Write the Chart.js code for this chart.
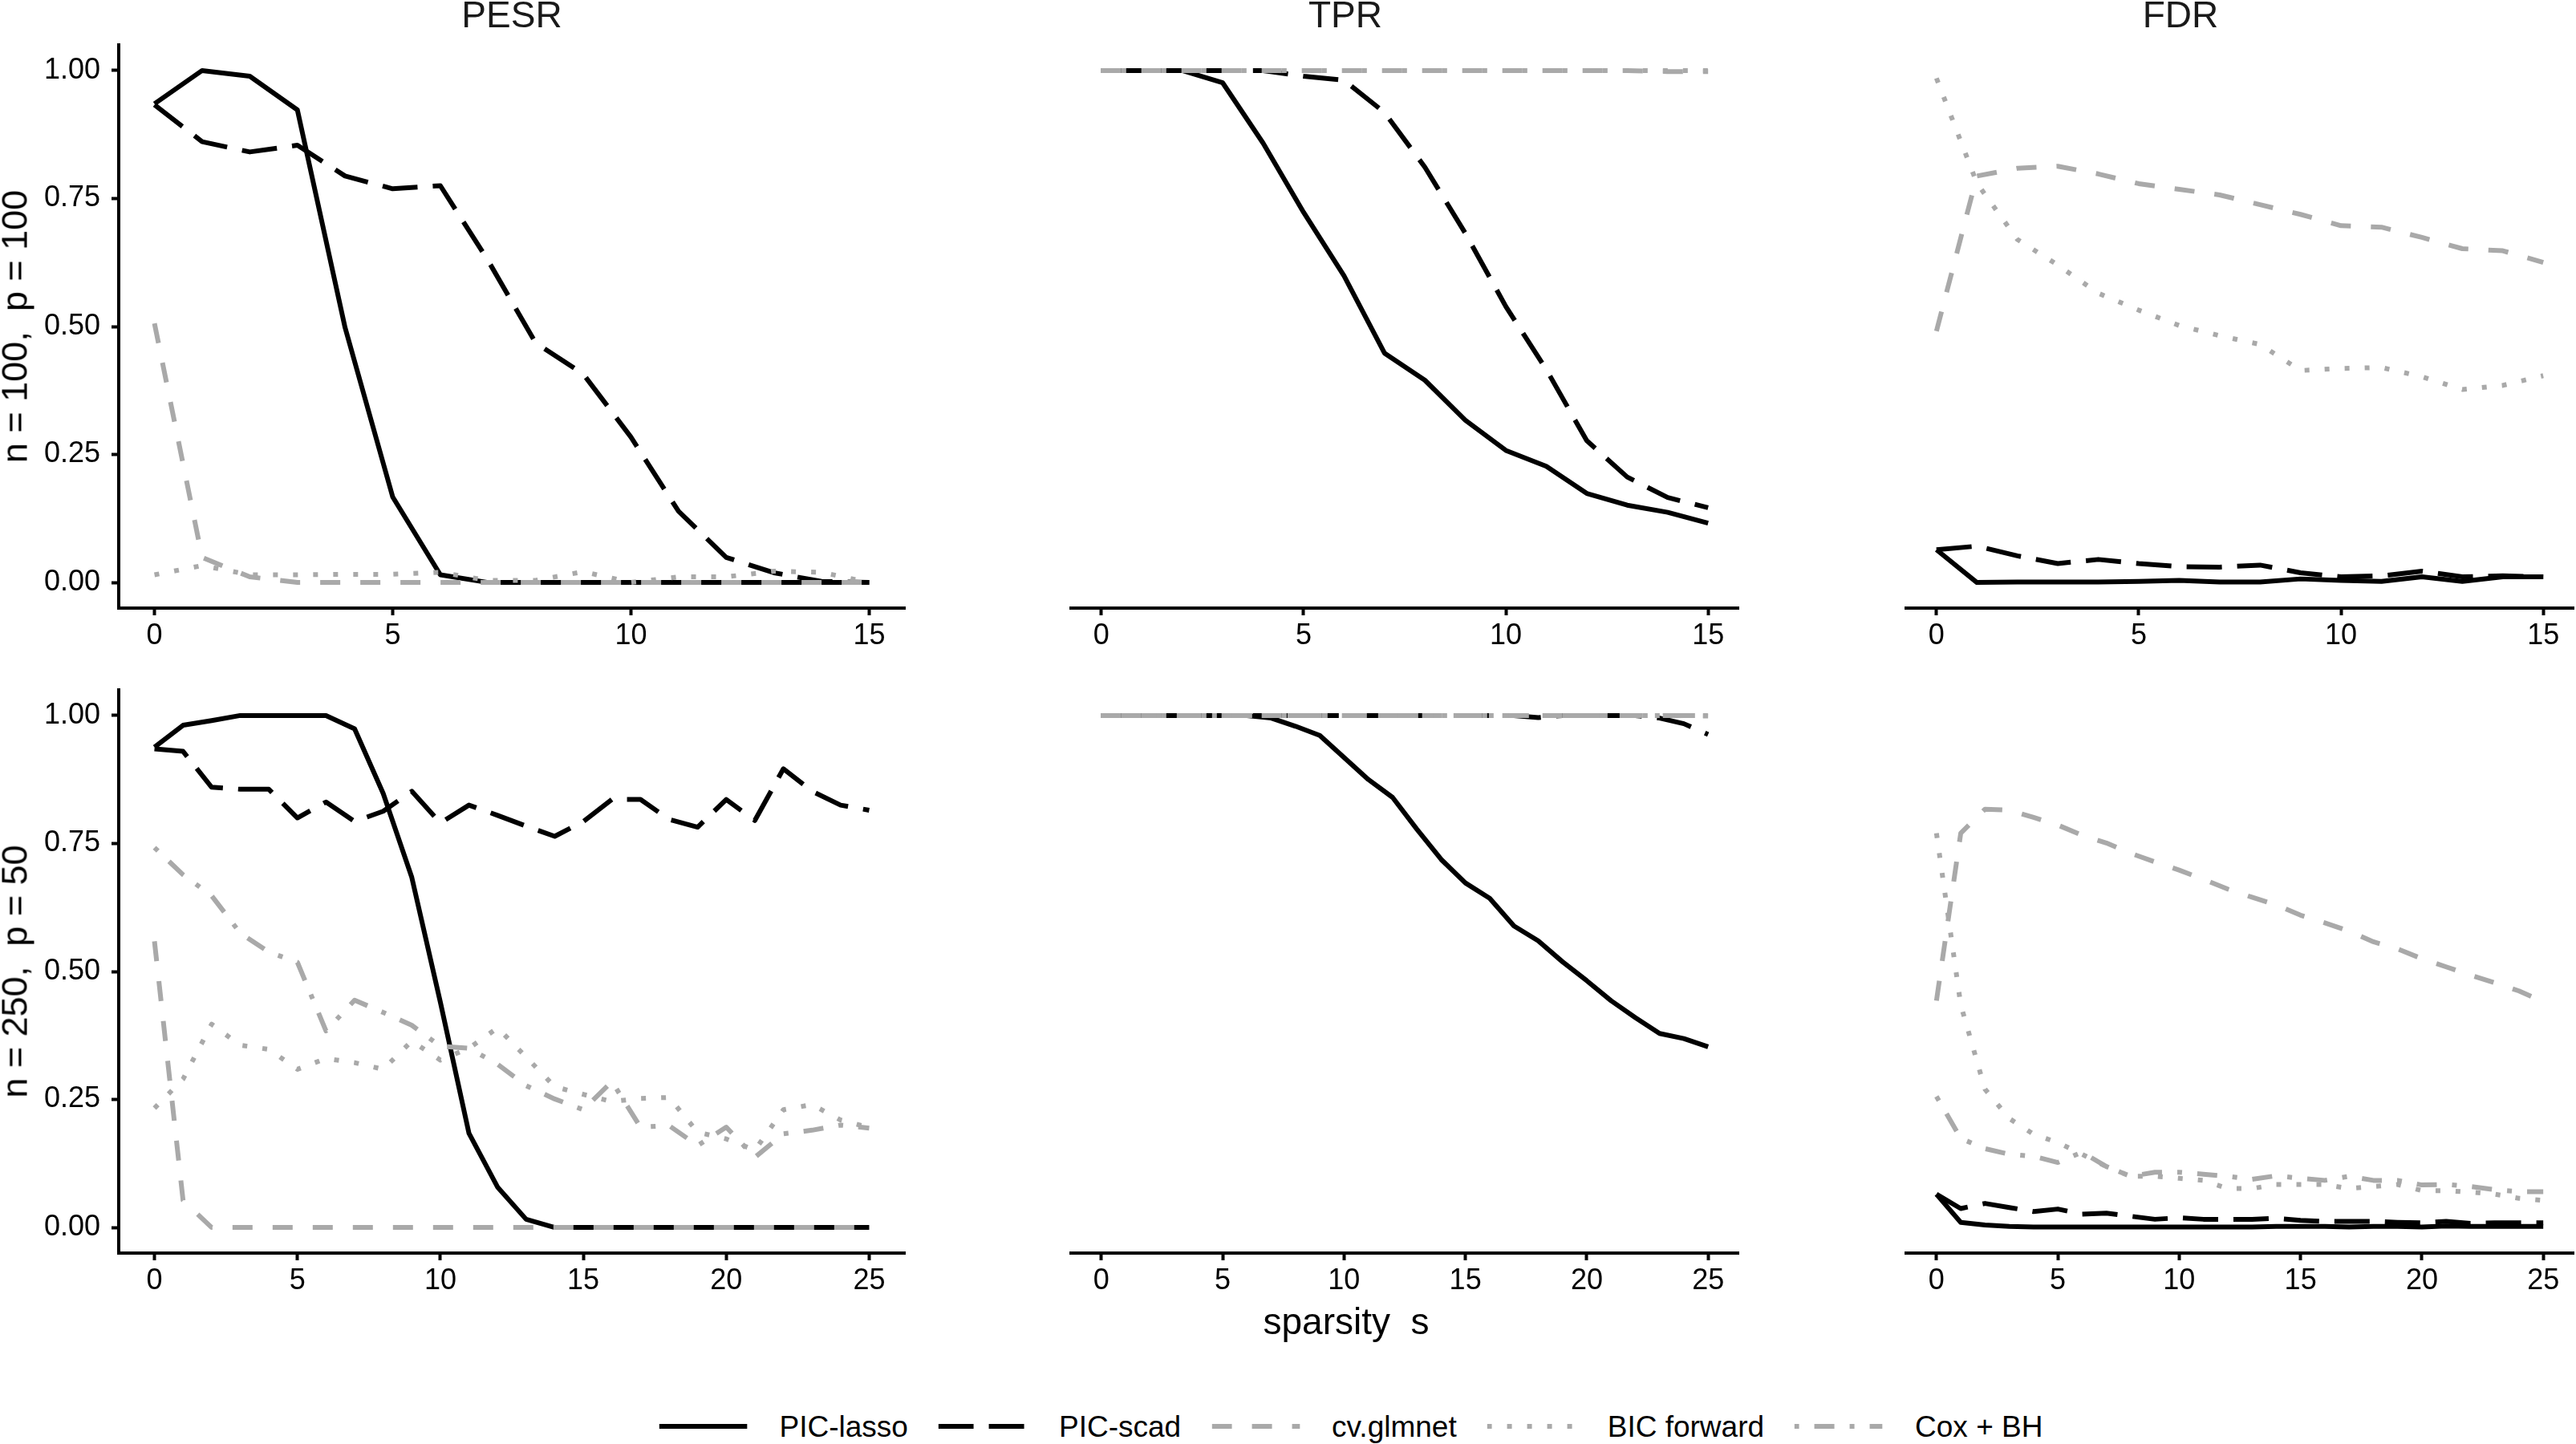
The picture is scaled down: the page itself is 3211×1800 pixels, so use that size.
<!DOCTYPE html>
<html>
<head>
<meta charset="utf-8">
<script src="https://cdn.jsdelivr.net/npm/chart.js@4.4.1/dist/chart.umd.min.js"></script>
<style>
  body { margin: 0; background: #fff; }
  #page { position: relative; width: 3211px; height: 1800px; overflow: hidden;
          font-family: "Liberation Sans", Arial, sans-serif; }
  #page canvas { position: absolute; }
  .txt { position: absolute; white-space: pre; line-height: 1; }
  #legend { position: absolute; display: flex; align-items: center; height: 40px;
            transform: translateX(-50%); font-size: 37px; line-height: 1; white-space: pre; }
  #legend svg { margin-right: 40px; }
  #legend span { margin-right: 38px; }
</style>
</head>
<body>
<div id="page"></div>
<script>
// sparsity values on the x axis
const sparsityTop = [0, 1, 2, 3, 4, 5, 6, 7, 8, 9, 10, 11, 12, 13, 14, 15];
const sparsityBottom = [0, 1, 2, 3, 4, 5, 6, 7, 8, 9, 10, 11, 12, 13, 14, 15, 16, 17, 18, 19, 20, 21, 22, 23, 24, 25];
const xTicksTop = [0, 5, 10, 15];
const xTicksBottom = [0, 5, 10, 15, 20, 25];
const yTicks = [0, 0.25, 0.5, 0.75, 1];

const metrics = ['PESR', 'TPR', 'FDR'];
const settings = ['n = 100,  p = 100', 'n = 250,  p = 50'];
const methods = ['PIC-lasso', 'PIC-scad', 'cv.glmnet', 'BIC forward', 'Cox + BH'];

// n = 100, p = 100
const pesrLasso1 = [0.935, 1.0, 0.989, 0.923, 0.498, 0.167, 0.015, 0, 0, 0, 0, 0, 0, 0, 0, 0];
const pesrScad1 = [0.933, 0.861, 0.841, 0.854, 0.794, 0.769, 0.775, 0.629, 0.468, 0.407, 0.284, 0.139, 0.049, 0.019, 0.002, 0];
const pesrCv1 = [0.506, 0.049, 0.011, 0, 0, 0, 0, 0, 0, 0, 0, 0, 0, 0, 0, 0];
const pesrBic1 = [0.015, 0.033, 0.015, 0.015, 0.016, 0.016, 0.02, 0.004, 0.004, 0.021, 0.0, 0.011, 0.011, 0.022, 0.02, 0.0];

const tprLasso1 = [1, 1, 1, 0.976, 0.858, 0.723, 0.599, 0.448, 0.395, 0.317, 0.258, 0.227, 0.174, 0.151, 0.137, 0.116];
const tprScad1 = [1, 1, 1, 1, 1, 0.989, 0.981, 0.918, 0.811, 0.682, 0.539, 0.416, 0.277, 0.206, 0.166, 0.146];
const tprCv1 = [1, 1, 1, 1, 1, 1, 1, 1, 1, 1, 1, 1, 1, 1, 0.998, 0.998];
const tprBic1 = [1, 1, 1, 1, 1, 1, 1, 1, 1, 1, 1, 1, 1, 1, 1, 1];

const fdrLasso1 = [0.064, 0, 0.001, 0.001, 0.001, 0.002, 0.004, 0.001, 0.001, 0.007, 0.004, 0.002, 0.011, 0.002, 0.011, 0.011];
const fdrScad1 = [0.064, 0.071, 0.052, 0.037, 0.045, 0.037, 0.031, 0.030, 0.034, 0.019, 0.011, 0.013, 0.022, 0.011, 0.013, 0.011];
const fdrCv1 = [0.491, 0.794, 0.809, 0.813, 0.798, 0.779, 0.768, 0.757, 0.738, 0.719, 0.697, 0.694, 0.674, 0.652, 0.648, 0.625];
const fdrBic1 = [0.985, 0.78, 0.67, 0.62, 0.565, 0.532, 0.502, 0.482, 0.465, 0.414, 0.418, 0.42, 0.402, 0.377, 0.385, 0.404];

// n = 250, p = 50
const pesrLasso2 = [0.938, 0.981, 0.99, 1, 1, 1, 1, 0.974, 0.848, 0.684, 0.44, 0.184, 0.079, 0.016, 0, 0, 0, 0, 0, 0, 0, 0, 0, 0, 0, 0];
const pesrScad2 = [0.935, 0.93, 0.86, 0.856, 0.856, 0.80, 0.831, 0.793, 0.813, 0.852, 0.79, 0.825, 0.805, 0.784, 0.764, 0.793, 0.836, 0.836, 0.797, 0.782, 0.836, 0.795, 0.896, 0.852, 0.825, 0.815];
const pesrCv2 = [0.559, 0.053, 0, 0, 0, 0, 0, 0, 0, 0, 0, 0, 0, 0, 0, 0, 0, 0, 0, 0, 0, 0, 0, 0, 0, 0];
const pesrBic2 = [0.233, 0.29, 0.397, 0.356, 0.348, 0.309, 0.33, 0.322, 0.309, 0.364, 0.327, 0.35, 0.39, 0.333, 0.275, 0.26, 0.246, 0.252, 0.254, 0.186, 0.173, 0.151, 0.23, 0.24, 0.21, 0.195];
const pesrCox2 = [0.742, 0.689, 0.648, 0.575, 0.538, 0.518, 0.384, 0.444, 0.42, 0.395, 0.354, 0.35, 0.319, 0.277, 0.251, 0.23, 0.285, 0.196, 0.199, 0.16, 0.196, 0.137, 0.183, 0.19, 0.2, 0.194];

const tprLasso2 = [1, 1, 1, 1, 1, 1, 1, 0.995, 0.979, 0.961, 0.918, 0.875, 0.84, 0.778, 0.719, 0.673, 0.643, 0.589, 0.56, 0.519, 0.482, 0.443, 0.41, 0.379, 0.369, 0.353];
const tprScad2 = [1, 1, 1, 1, 1, 1, 1, 1, 1, 1, 1, 1, 1, 1, 1, 1, 1, 1, 0.996, 1, 1, 1, 1, 0.995, 0.984, 0.963];
const tprCv2 = [1, 1, 1, 1, 1, 1, 1, 1, 1, 1, 1, 1, 1, 1, 1, 1, 1, 1, 1, 1, 1, 1, 1, 1, 1, 0.999];
const tprBic2 = [1, 1, 1, 1, 1, 1, 1, 1, 1, 1, 1, 1, 1, 1, 1, 1, 1, 1, 1, 1, 1, 1, 1, 1, 1, 1];
const tprCox2 = [1, 1, 1, 1, 1, 1, 1, 1, 1, 1, 1, 1, 1, 1, 1, 1, 1, 1, 1, 1, 1, 1, 1, 1, 1, 1];

const fdrLasso2 = [0.065, 0.01, 0.005, 0.002, 0.001, 0.001, 0.001, 0.001, 0.001, 0.001, 0.001, 0.001, 0.001, 0.001, 0.002, 0.002, 0.002, 0.001, 0.002, 0.002, 0.001, 0.003, 0.002, 0.002, 0.002, 0.002];
const fdrScad2 = [0.065, 0.037, 0.047, 0.039, 0.031, 0.036, 0.026, 0.028, 0.022, 0.016, 0.019, 0.016, 0.016, 0.016, 0.018, 0.014, 0.012, 0.012, 0.012, 0.01, 0.009, 0.012, 0.008, 0.009, 0.009, 0.009];
const fdrCv2 = [0.443, 0.77, 0.817, 0.815, 0.801, 0.786, 0.766, 0.751, 0.731, 0.714, 0.698, 0.68, 0.661, 0.645, 0.63, 0.61, 0.595, 0.579, 0.558, 0.544, 0.525, 0.509, 0.493, 0.478, 0.462, 0.441];
const fdrBic2 = [0.77, 0.435, 0.27, 0.213, 0.182, 0.166, 0.143, 0.119, 0.1, 0.1, 0.096, 0.092, 0.076, 0.076, 0.084, 0.084, 0.084, 0.076, 0.08, 0.084, 0.072, 0.072, 0.069, 0.065, 0.057, 0.053];
const fdrCox2 = [0.256, 0.174, 0.154, 0.143, 0.139, 0.127, 0.147, 0.119, 0.1, 0.108, 0.108, 0.104, 0.1, 0.094, 0.101, 0.096, 0.092, 0.1, 0.092, 0.092, 0.083, 0.084, 0.08, 0.074, 0.07, 0.07];

// line styles, ggplot linetypes scaled to the line width
const GRAY = '#A9A9A9';
const styles = {
  'PIC-lasso':   { color: '#000', dash: [] },
  'PIC-scad':    { color: '#000', dash: [44, 19] },
  'cv.glmnet':   { color: GRAY, dash: [25, 25] },
  'BIC forward': { color: GRAY, dash: [6, 19] },
  'Cox + BH':    { color: GRAY, dash: [6, 19, 25, 19] }
};

const panels = [
  { row: 0, col: 0, xs: sparsityTop, ticks: xTicksTop, lines: [pesrLasso1, pesrScad1, pesrCv1, pesrBic1] },
  { row: 0, col: 1, xs: sparsityTop, ticks: xTicksTop, lines: [tprLasso1, tprScad1, tprCv1, tprBic1] },
  { row: 0, col: 2, xs: sparsityTop, ticks: xTicksTop, lines: [fdrLasso1, fdrScad1, fdrCv1, fdrBic1] },
  { row: 1, col: 0, xs: sparsityBottom, ticks: xTicksBottom, lines: [pesrLasso2, pesrScad2, pesrCv2, pesrBic2, pesrCox2] },
  { row: 1, col: 1, xs: sparsityBottom, ticks: xTicksBottom, lines: [tprLasso2, tprScad2, tprCv2, tprBic2, tprCox2] },
  { row: 1, col: 2, xs: sparsityBottom, ticks: xTicksBottom, lines: [fdrLasso2, fdrScad2, fdrCv2, fdrBic2, fdrCox2] }
];

// panel geometry
const colLeft = [148, 1187, 2228];
const rowTop = [56, 860];
const plotW = 980, plotH = 702;
const AXIS_W = 148, PAD_TOP = 16, PAD_RIGHT = 12, XAXIS_H = 70;

Chart.defaults.font.family = '"Liberation Sans", Arial, sans-serif';
Chart.defaults.color = '#000';

const page = document.getElementById('page');

panels.forEach(p => {
  const canvas = document.createElement('canvas');
  canvas.width = AXIS_W + plotW + PAD_RIGHT;
  canvas.height = PAD_TOP + plotH + XAXIS_H;
  canvas.style.left = (colLeft[p.col] - AXIS_W) + 'px';
  canvas.style.top = (rowTop[p.row] - PAD_TOP) + 'px';
  page.appendChild(canvas);

  const xMax = p.xs[p.xs.length - 1];
  const pad = xMax * 0.05;

  new Chart(canvas.getContext('2d'), {
    type: 'line',
    data: {
      datasets: p.lines.map((vals, i) => ({
        label: methods[i],
        data: p.xs.map((x, j) => ({ x: x, y: vals[j] })),
        borderColor: styles[methods[i]].color,
        borderDash: styles[methods[i]].dash,
        borderWidth: 6,
        borderCapStyle: 'butt',
        borderJoinStyle: 'round',
        pointRadius: 0,
        tension: 0,
        fill: false,
        order: 10 - i
      }))
    },
    options: {
      responsive: false,
      animation: false,
      events: [],
      layout: { padding: { top: PAD_TOP, right: PAD_RIGHT, bottom: 0, left: p.col === 0 ? 0 : AXIS_W } },
      plugins: { legend: { display: false }, tooltip: { enabled: false } },
      scales: {
        x: {
          type: 'linear',
          min: -pad,
          max: xMax + pad,
          afterBuildTicks: s => { s.ticks = p.ticks.map(v => ({ value: v })); },
          afterFit: s => { s.height = XAXIS_H; s.paddingLeft = 0; s.paddingRight = 0; },
          grid: { drawOnChartArea: false, tickLength: 9, tickWidth: 4, tickColor: '#000' },
          border: { display: true, color: '#000', width: 4 },
          ticks: { font: { size: 36 }, color: '#000', padding: 4, maxRotation: 0, autoSkip: false }
        },
        y: {
          display: p.col === 0,
          min: -0.05,
          max: 1.05,
          afterBuildTicks: s => { s.ticks = yTicks.map(v => ({ value: v })); },
          afterFit: s => { s.width = AXIS_W; s.paddingTop = 0; s.paddingBottom = 0; },
          grid: { drawOnChartArea: false, tickLength: 9, tickWidth: 4, tickColor: '#000' },
          border: { display: true, color: '#000', width: 4 },
          ticks: { font: { size: 36 }, color: '#000', padding: 14, callback: v => v.toFixed(2) }
        }
      }
    }
  });
});

// text placed by its baseline
function addText(str, cx, baseline, size, color) {
  const d = document.createElement('div');
  d.className = 'txt';
  d.textContent = str;
  d.style.fontSize = size + 'px';
  d.style.color = color;
  d.style.left = cx + 'px';
  d.style.top = (baseline - 0.8465 * size) + 'px';
  d.style.transform = 'translateX(-50%)';
  page.appendChild(d);
}

function addRotated(str, cx, cy, size) {
  const d = document.createElement('div');
  d.className = 'txt';
  d.textContent = str;
  d.style.fontSize = size + 'px';
  d.style.color = '#000';
  d.style.left = cx + 'px';
  d.style.top = cy + 'px';
  d.style.transform = 'translate(-50%, -50%) rotate(-90deg)';
  page.appendChild(d);
}

metrics.forEach((m, c) => addText(m, colLeft[c] + plotW / 2, 34, 46, '#1A1A1A'));
settings.forEach((s, r) => addRotated(s, 17.5, rowTop[r] + plotH / 2, 45));
addText('sparsity  s', (colLeft[0] + colLeft[2] + plotW) / 2, 1663, 46, '#000');

// legend
const legend = document.createElement('div');
legend.id = 'legend';
legend.style.left = '1684px';
legend.style.top = '1758px';
methods.forEach(m => {
  const st = styles[m];
  const svg = document.createElementNS('http://www.w3.org/2000/svg', 'svg');
  svg.setAttribute('width', '110');
  svg.setAttribute('height', '12');
  const ln = document.createElementNS('http://www.w3.org/2000/svg', 'line');
  ln.setAttribute('x1', '0'); ln.setAttribute('y1', '6');
  ln.setAttribute('x2', '110'); ln.setAttribute('y2', '6');
  ln.setAttribute('stroke', st.color);
  ln.setAttribute('stroke-width', '6');
  if (st.dash.length) ln.setAttribute('stroke-dasharray', st.dash.join(' '));
  svg.appendChild(ln);
  const label = document.createElement('span');
  label.textContent = m;
  legend.appendChild(svg);
  legend.appendChild(label);
});
legend.lastChild.style.marginRight = '0';
page.appendChild(legend);
</script>
</body>
</html>
